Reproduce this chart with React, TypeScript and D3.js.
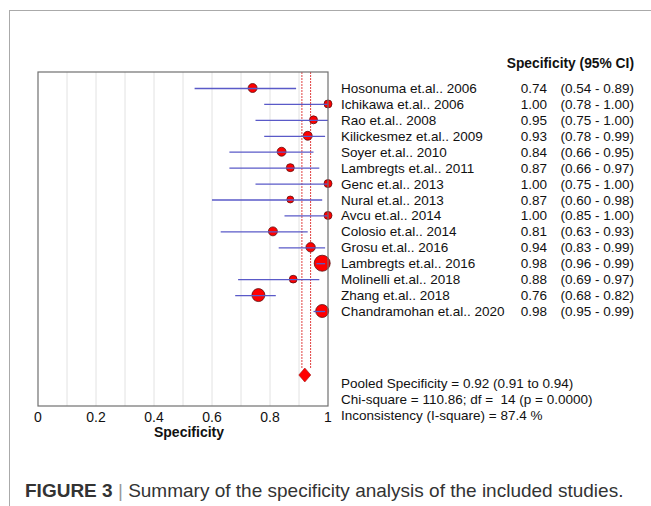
import React from "react";
import * as d3 from "d3";

const studies = [
  "Hosonuma et.al.. 2006",
  "Ichikawa et.al.. 2006",
  "Rao et.al.. 2008",
  "Kilickesmez et.al.. 2009",
  "Soyer et.al.. 2010",
  "Lambregts et.al.. 2011",
  "Genc et.al.. 2013",
  "Nural et.al.. 2013",
  "Avcu et.al.. 2014",
  "Colosio et.al.. 2014",
  "Grosu et.al.. 2016",
  "Lambregts et.al.. 2016",
  "Molinelli et.al.. 2018",
  "Zhang et.al.. 2018",
  "Chandramohan et.al.. 2020",
];
const spec = [0.74, 1.0, 0.95, 0.93, 0.84, 0.87, 1.0, 0.87, 1.0, 0.81, 0.94, 0.98, 0.88, 0.76, 0.98];
const lower = [0.54, 0.78, 0.75, 0.78, 0.66, 0.66, 0.75, 0.6, 0.85, 0.63, 0.83, 0.96, 0.69, 0.68, 0.95];
const upper = [0.89, 1.0, 1.0, 0.99, 0.95, 0.97, 1.0, 0.98, 1.0, 0.93, 0.99, 0.99, 0.97, 0.82, 0.99];
// relative study weights (marker area)
const weights = [20, 16, 16, 20, 20, 16, 16, 12, 16, 20, 22, 64, 15, 42, 42];

const pooled = { est: 0.92, lo: 0.91, hi: 0.94 };
const xTicks = [0, 0.2, 0.4, 0.6, 0.8, 1];
const summaryLines = [
  "Pooled Specificity = 0.92 (0.91 to 0.94)",
  "Chi-square = 110.86; df =  14 (p = 0.0000)",
  "Inconsistency (I-square) = 87.4 %",
];

const font = "'Liberation Sans', Arial, sans-serif";

export default function App() {
  const W = 651;
  const H = 506;
  const box = { left: 38, right: 328, top: 72, bottom: 406 };

  const x = d3.scaleLinear().domain([0, 1]).range([box.left, box.right]);
  const y = d3
    .scalePoint<number>()
    .domain(d3.range(studies.length))
    .range([88, 311]);
  const r = d3.scaleSqrt().domain([0, d3.max(weights) as number]).range([0, 8]);
  const diamondY = 375;
  const grid = d3.range(1, 10).map((i) => i / 10);

  return (
    <svg width={W} height={H} style={{ position: "absolute", left: 0, top: 0 }}>
      <rect width={W} height={H} fill="#fff" />
      {/* outer frame */}
      <line x1={9} x2={W} y1={10.5} y2={10.5} stroke="#aaa" />
      <line x1={9.5} x2={9.5} y1={10} y2={H} stroke="#aaa" />

      {/* grid */}
      {grid.map((g) => (
        <line key={g} x1={x(g)} x2={x(g)} y1={box.top} y2={box.bottom} stroke="#e2e2e2" />
      ))}

      {/* pooled CI lines */}
      {[pooled.lo, pooled.hi].map((v) => (
        <line
          key={v}
          x1={x(v)}
          x2={x(v)}
          y1={box.top}
          y2={diamondY - 6}
          stroke="#e04040"
          strokeWidth={1}
          strokeDasharray="2 1"
        />
      ))}

      {/* points */}
      {studies.map((s, i) => (
        <circle
          key={s}
          cx={x(spec[i])}
          cy={y(i)}
          r={r(weights[i])}
          fill="#ff0000"
          stroke="#5a1010"
          strokeWidth={0.8}
        />
      ))}
      {studies.map((s, i) => (
        <line
          key={s}
          x1={x(lower[i])}
          x2={x(upper[i])}
          y1={y(i)! + 0.5}
          y2={y(i)! + 0.5}
          stroke="#5a5ac8"
          strokeWidth={1.3}
        />
      ))}

      {/* pooled diamond */}
      <path
        d={`M${x(pooled.est)},${diamondY - 7} L${x(pooled.est) + 6},${diamondY} L${x(pooled.est)},${diamondY + 7} L${x(pooled.est) - 6},${diamondY} Z`}
        fill="#ff0000"
        stroke="#a01010"
        strokeWidth={0.6}
      />

      {/* box */}
      <rect
        x={box.left}
        y={box.top}
        width={box.right - box.left}
        height={box.bottom - box.top}
        fill="none"
        stroke="#707070"
        strokeWidth={1.2}
      />

      {/* x ticks */}
      {xTicks.map((t) => (
        <text key={t} x={x(t)} y={422} textAnchor="middle" fontFamily={font} fontSize={14} fill="#111">
          {t}
        </text>
      ))}
      <text x={189} y={437} textAnchor="middle" fontFamily={font} fontSize={14} fontWeight="bold" fill="#111">
        Specificity
      </text>

      {/* right table */}
      <text x={634} y={68} textAnchor="end" fontFamily={font} fontSize={13.8} fontWeight="bold" fill="#111">
        Specificity (95% CI)
      </text>
      {studies.map((s, i) => (
        <g key={s} fontFamily={font} fontSize={13.5} fill="#111">
          <text x={341} y={y(i)! + 5}>{s}</text>
          <text x={547} y={y(i)! + 5} textAnchor="end">
            {spec[i].toFixed(2)}
          </text>
          <text x={634} y={y(i)! + 5} textAnchor="end">
            ({lower[i].toFixed(2)} - {upper[i].toFixed(2)})
          </text>
        </g>
      ))}

      {summaryLines.map((l, i) => (
        <text key={l} x={341} y={388 + i * 16} fontFamily={font} fontSize={13.5} fill="#111" style={{ whiteSpace: "pre" }}>
          {l}
        </text>
      ))}

      {/* caption */}
      <text x={25} y={497} fontFamily={font} fontSize={19} fill="#333">
        <tspan fontWeight="bold">FIGURE 3</tspan>
        <tspan fill="#999"> | </tspan>
        <tspan>Summary of the specificity analysis of the included studies.</tspan>
      </text>
    </svg>
  );
}
